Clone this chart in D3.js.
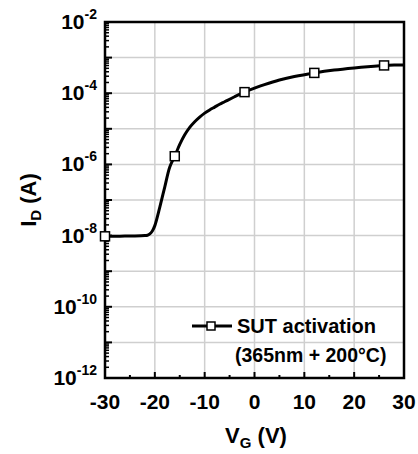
<!DOCTYPE html>
<html>
<head>
<meta charset="utf-8">
<script src="https://cdn.jsdelivr.net/npm/d3@7"></script>
<style>
  body { margin: 0; background: #fff; }
  text { font-family: "Liberation Sans", Arial, sans-serif; font-weight: bold; fill: #000; }
</style>
</head>
<body>
<svg id="chart" width="418" height="454"></svg>
<script>
// gate voltage (V) and log10 of drain current (A)
const vg = [-30, -28, -26, -24, -22, -21.5, -21, -20.5, -20, -19, -18, -17, -16, -15, -14, -13, -12,
            -11, -10, -9, -8, -7, -6, -4, -2, 0, 2, 5, 8, 12, 16, 20, 24, 26, 28, 30];
const logId = [-8.02, -8.02, -8.01, -8.01, -8.0, -7.99, -7.95, -7.87, -7.72, -7.2, -6.63, -6.07, -5.77,
               -5.44, -5.17, -4.96, -4.8, -4.67, -4.56, -4.47, -4.39, -4.31, -4.24, -4.1, -3.97,
               -3.86, -3.76, -3.63, -3.53, -3.43, -3.35, -3.29, -3.24, -3.22, -3.21, -3.21];
const markerVg = [-30, -16, -2, 12, 26];
const xTicks = [-30, -20, -10, 0, 10, 20, 30];
const yLabelExp = [-2, -4, -6, -8, -10, -12];
const legendLines = ["SUT activation", "(365nm + 200\u00B0C)"];

const svg = d3.select("#chart");
const L = 105, R = 404, T = 22, B = 378;

const x = d3.scaleLinear().domain([-30, 30]).range([L, R]);
const y = d3.scaleLog().domain([1e-12, 1e-2]).range([B, T]);

const data = vg.map((v, i) => ({ v: v, id: Math.pow(10, logId[i]) }));

// grid
const grid = svg.append("g").attr("stroke", "#cfcfcf").attr("stroke-width", 1.5);
d3.range(-20, 30, 10).forEach(v => {
  grid.append("line").attr("x1", x(v)).attr("x2", x(v)).attr("y1", T).attr("y2", B);
});
d3.range(-11, -2).forEach(e => {
  grid.append("line").attr("x1", L).attr("x2", R).attr("y1", y(Math.pow(10, e))).attr("y2", y(Math.pow(10, e)));
});

// ticks (inward)
const tk = svg.append("g").attr("stroke", "#000").attr("stroke-width", 2);
d3.range(-30, 31, 5).forEach(v => {
  const len = v % 10 === 0 ? 6 : 3;
  tk.append("line").attr("x1", x(v)).attr("x2", x(v)).attr("y1", B).attr("y2", B - len);
});
for (let e = -12; e < -2; e++) {
  for (let m = 1; m < 10; m++) {
    const yy = y(m * Math.pow(10, e));
    tk.append("line").attr("x1", L).attr("x2", L + (m === 1 ? 7 : 4)).attr("y1", yy).attr("y2", yy)
      .attr("stroke-width", m === 1 ? 2 : 1.5);
  }
}

// frame
svg.append("rect").attr("x", L).attr("y", T).attr("width", R - L).attr("height", B - T)
  .attr("fill", "none").attr("stroke", "#000").attr("stroke-width", 2.5);

// curve
const line = d3.line().x(d => x(d.v)).y(d => y(d.id)).curve(d3.curveCatmullRom);
svg.append("path").datum(data).attr("d", line)
  .attr("fill", "none").attr("stroke", "#000").attr("stroke-width", 3).attr("stroke-linejoin", "round");

svg.append("g").selectAll("rect").data(data.filter(d => markerVg.includes(d.v))).join("rect")
  .attr("x", d => x(d.v) - 4.5).attr("y", d => y(d.id) - 4.5)
  .attr("width", 9).attr("height", 9)
  .attr("fill", "#fff").attr("stroke", "#000").attr("stroke-width", 1.5);

// tick labels
svg.append("g").selectAll("text").data(xTicks).join("text")
  .attr("x", d => x(d)).attr("y", 409).attr("text-anchor", "middle")
  .style("font-size", "21px").text(d => d);

const yl = svg.append("g").selectAll("text").data(yLabelExp).join("text")
  .attr("x", 97).attr("y", d => y(Math.pow(10, d)) + 7).attr("text-anchor", "end")
  .style("font-size", "21px");
yl.append("tspan").text("10");
yl.append("tspan").attr("dy", -10).style("font-size", "14px").text(d => d);

// axis titles
const xt = svg.append("text").attr("x", 256).attr("y", 443).attr("text-anchor", "middle").style("font-size", "22px");
xt.append("tspan").text("V");
xt.append("tspan").attr("dy", 5).style("font-size", "15px").text("G");
xt.append("tspan").attr("dy", -5).text(" (V)");

const yt = svg.append("text").attr("transform", "translate(36,200) rotate(-90)")
  .attr("text-anchor", "middle").style("font-size", "22px");
yt.append("tspan").text("I");
yt.append("tspan").attr("dy", 5).style("font-size", "15px").text("D");
yt.append("tspan").attr("dy", -5).text(" (A)");

// legend
const lg = svg.append("g");
lg.append("line").attr("x1", 192).attr("x2", 232).attr("y1", 326).attr("y2", 326)
  .attr("stroke", "#000").attr("stroke-width", 3);
lg.append("rect").attr("x", 207).attr("y", 322).attr("width", 8).attr("height", 8)
  .attr("fill", "#fff").attr("stroke", "#000").attr("stroke-width", 1.5);
lg.append("text").attr("x", 237).attr("y", 333).style("font-size", "20px").text(legendLines[0]);
lg.append("text").attr("x", 235).attr("y", 362).style("font-size", "19.5px").text(legendLines[1]);
</script>
</body>
</html>
